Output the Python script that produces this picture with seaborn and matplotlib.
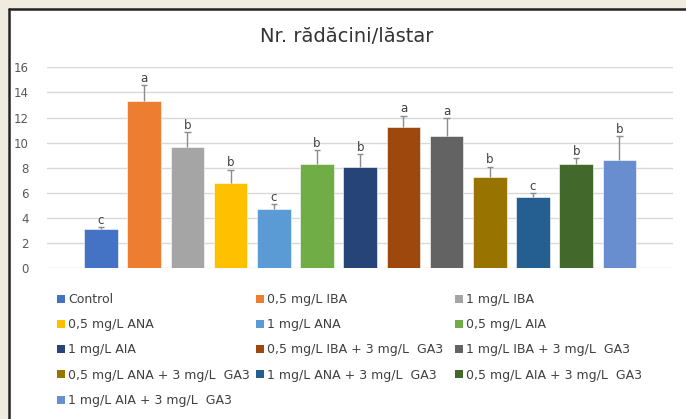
import numpy as np
import pandas as pd
import matplotlib
matplotlib.use("Agg")
import matplotlib.pyplot as plt
from matplotlib.patches import Rectangle
from matplotlib.lines import Line2D
import seaborn as sns

# Data
treatments = ["Control", "0,5 mg/L IBA", "1 mg/L IBA", "0,5 mg/L ANA",
              "1 mg/L ANA", "0,5 mg/L AIA", "1 mg/L AIA",
              "0,5 mg/L IBA + 3 mg/L  GA3", "1 mg/L IBA + 3 mg/L  GA3",
              "0,5 mg/L ANA + 3 mg/L  GA3", "1 mg/L ANA + 3 mg/L  GA3",
              "0,5 mg/L AIA + 3 mg/L  GA3", "1 mg/L AIA + 3 mg/L  GA3"]
means = [3.13, 13.32, 9.63, 6.82, 4.75, 8.33, 8.09, 11.25, 10.56, 7.24, 5.68, 8.33, 8.62]
errors = [0.15, 1.25, 1.2, 1.03, 0.37, 1.06, 1.0, 0.9, 1.38, 0.85, 0.3, 0.45, 1.9]
letters = ["c", "a", "b", "b", "c", "b", "b", "a", "a", "b", "c", "b", "b"]
colors = ["#4472C4", "#ED7D31", "#A5A5A5", "#FFC000", "#5B9BD5", "#70AD47",
          "#264478", "#9E480E", "#636363", "#997300", "#255E91", "#43682B",
          "#698ED0"]

df = pd.DataFrame({"Tratament": treatments, "Valoare": means})

sns.set_theme(style="white")
plt.rcParams['font.family'] = ['DejaVu Sans']

fig = plt.figure(figsize=(6.86, 4.19), dpi=100)
fig.patch.set_facecolor("#EFECDF")

# white chart panel with dark border on top/left
fig.patches.append(Rectangle((8 / 686, 0), 1, 1 - 9 / 419, transform=fig.transFigure,
                             facecolor="white", edgecolor="none", zorder=-2))
fig.lines.append(Line2D([8.5 / 686, 8.5 / 686], [0, 1 - 9 / 419], transform=fig.transFigure,
                        color="#222222", lw=1.8, zorder=-1))
fig.lines.append(Line2D([8.5 / 686, 1], [1 - 9 / 419, 1 - 9 / 419], transform=fig.transFigure,
                        color="#222222", lw=1.8, zorder=-1))

ax = fig.add_axes([47 / 686, 1 - 268.3 / 419, (673 - 47) / 686, (268.3 - 67.3) / 419])
ax.set_facecolor("none")

sns.barplot(data=df, x="Tratament", y="Valoare", hue="Tratament", palette=colors,
            saturation=1, width=0.78, dodge=False, legend=False, ax=ax, zorder=3,
            edgecolor="white", linewidth=0.4)

# upper-only error bars with a cap at the top
x = np.arange(len(treatments))
tops = np.array(means) + np.array(errors)
ax.vlines(x, means, tops, color="#8C8C8C", linewidth=1, zorder=4)
ax.hlines(tops, x - 0.075, x + 0.075, color="#8C8C8C", linewidth=1, zorder=4)

for xi, t, lab in zip(x, tops, letters):
    ax.text(xi, t + 0.02, lab, ha="center", va="bottom", fontsize=8.5,
            color="#404040", zorder=5)

ax.set_ylim(0, 16)
ax.set_xlim(-1.25, 13.24)
ax.set_yticks(range(0, 17, 2))
ax.set_xticks([])
ax.set_xlabel("")
ax.set_ylabel("")
ax.yaxis.grid(True, color="#D9D9D9", linewidth=1)
ax.set_axisbelow(True)
for s in ax.spines.values():
    s.set_visible(False)
ax.tick_params(axis="y", length=0, pad=13, labelsize=8.5, labelcolor="#595959")

fig.text(347 / 686, 1 - 37 / 419, "Nr. rădăcini/lăstar", ha="center", va="center",
         fontsize=14, color="#333333")

# legend laid out row-wise in 3 columns, one legend per column
handles = [Rectangle((0, 0), 1, 1, facecolor=c, edgecolor="none") for c in colors]
col_x = [57, 256, 455]
for c in range(3):
    idx = list(range(c, len(treatments), 3))
    fig.legend([handles[i] for i in idx], [treatments[i] for i in idx],
               loc="upper left", bbox_to_anchor=(col_x[c] / 686, 1 - 293 / 419),
               frameon=False, fontsize=9, handlelength=0.6, handleheight=0.6,
               handletextpad=0.3, labelspacing=0.98,
               borderpad=0, borderaxespad=0, labelcolor="#404040")

fig.savefig("out.png", dpi=100, facecolor=fig.get_facecolor())
